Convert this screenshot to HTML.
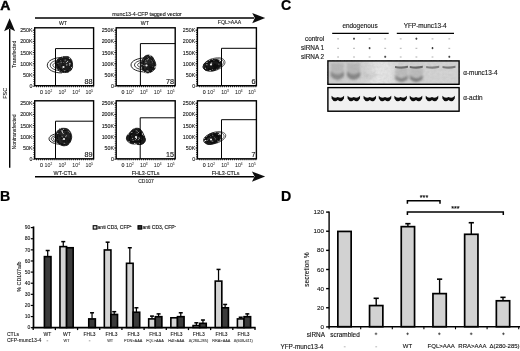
<!DOCTYPE html>
<html><head><meta charset="utf-8"><title>Figure</title>
<style>
html,body{margin:0;padding:0;background:#fff;}
body{width:520px;height:351px;overflow:hidden;}
svg{display:block;}
svg text{font-family:"Liberation Sans",Arial,sans-serif;}
</style></head><body>
<svg width="520" height="351" viewBox="0 0 520 351">
<defs>
<filter id="b03" x="-10%" y="-10%" width="120%" height="120%"><feGaussianBlur stdDeviation="0.3"/></filter>
<filter id="b06" x="-10%" y="-30%" width="120%" height="160%"><feGaussianBlur stdDeviation="0.55"/></filter>
<filter id="mot" x="-5%" y="-5%" width="110%" height="110%"><feTurbulence type="fractalNoise" baseFrequency="0.42" numOctaves="2" seed="7" result="n"/><feColorMatrix in="n" type="matrix" values="0 0 0 0 0.85  0 0 0 0 0.85  0 0 0 0 0.85  4.5 0 0 0 -2.78" result="w"/><feComposite in="w" in2="SourceGraphic" operator="in" result="wc"/><feMerge><feMergeNode in="SourceGraphic"/><feMergeNode in="wc"/></feMerge></filter>
<filter id="b07" x="-10%" y="-50%" width="120%" height="200%"><feGaussianBlur stdDeviation="0.6"/></filter>
<filter id="b12" x="-10%" y="-30%" width="120%" height="160%"><feGaussianBlur stdDeviation="1.1"/></filter>
<filter id="all"><feGaussianBlur stdDeviation="0.35"/></filter>
<filter id="noise" x="0" y="0" width="100%" height="100%"><feTurbulence type="fractalNoise" baseFrequency="0.35" numOctaves="2" seed="4"/><feColorMatrix type="matrix" values="0 0 0 0 0.5  0 0 0 0 0.5  0 0 0 0 0.5  0.9 0.9 0.9 0 -0.9"/></filter>
<linearGradient id="blotbg" x1="0" x2="1" y1="0" y2="0">
<stop offset="0" stop-color="#cdcdcd"/><stop offset="0.25" stop-color="#d2d2d2"/><stop offset="0.36" stop-color="#e8e8e8"/><stop offset="0.47" stop-color="#e4e4e4"/><stop offset="0.55" stop-color="#d2d2d2"/><stop offset="1" stop-color="#d4d4d4"/>
</linearGradient>
</defs>
<rect width="520" height="351" fill="#fff"/>
<g filter="url(#all)">
<text transform="translate(0.3,10.3) scale(1.03,0.98)" font-size="13.6" font-weight="bold" fill="#000" stroke="#000" stroke-width="0.45">A</text>
<line x1="35" y1="17.9" x2="254" y2="17.9" stroke="#000" stroke-width="1.5" />
<polygon points="265.2,18 252.2,13 254.8,18 252.2,23.2" fill="#111"/>
<text x="146.9" y="16.1" font-size="5.3" text-anchor="middle" font-weight="normal" fill="#111" stroke="#111" stroke-width="0.10" >munc13-4-CFP tagged vector</text>
<line x1="9.7" y1="29" x2="9.7" y2="167.8" stroke="#000" stroke-width="1.4" />
<polygon points="9.6,18.2 4.1,31.2 9.6,28.6 15.1,31.2" fill="#111"/>
<line x1="35" y1="176.7" x2="254" y2="176.7" stroke="#000" stroke-width="1.4" />
<polygon points="265.2,176.6 251.9,171.5 254.6,176.6 251.9,181.8" fill="#111"/>
<text x="146" y="183" font-size="5" text-anchor="middle" font-weight="normal" fill="#111" stroke="#111" stroke-width="0.09" >CD107</text>
<text x="6.7" y="93.3" font-size="5.4" text-anchor="middle" font-weight="normal" fill="#111" stroke="#111" stroke-width="0.10" transform="rotate(-90 6.7 93.3)" >FSC</text>
<text x="16.2" y="54.3" font-size="5.2" text-anchor="middle" font-weight="normal" fill="#111" stroke="#111" stroke-width="0.09" transform="rotate(-90 16.2 54.3)" >Transfected</text>
<text x="16.2" y="132" font-size="5.2" text-anchor="middle" font-weight="normal" fill="#111" stroke="#111" stroke-width="0.09" transform="rotate(-90 16.2 132)" >Nontransfected</text>
<text x="32.5" y="32.2" font-size="5.3" text-anchor="end" font-weight="normal" fill="#111" stroke="#111" stroke-width="0.10" >250K</text>
<line x1="32.800000000000004" y1="30.2" x2="34.7" y2="30.2" stroke="#000" stroke-width="0.8" />
<text x="32.5" y="43.4" font-size="5.3" text-anchor="end" font-weight="normal" fill="#111" stroke="#111" stroke-width="0.10" >200K</text>
<line x1="32.800000000000004" y1="41.4" x2="34.7" y2="41.4" stroke="#000" stroke-width="0.8" />
<text x="32.5" y="54.599999999999994" font-size="5.3" text-anchor="end" font-weight="normal" fill="#111" stroke="#111" stroke-width="0.10" >150K</text>
<line x1="32.800000000000004" y1="52.599999999999994" x2="34.7" y2="52.599999999999994" stroke="#000" stroke-width="0.8" />
<text x="32.5" y="65.8" font-size="5.3" text-anchor="end" font-weight="normal" fill="#111" stroke="#111" stroke-width="0.10" >100K</text>
<line x1="32.800000000000004" y1="63.8" x2="34.7" y2="63.8" stroke="#000" stroke-width="0.8" />
<text x="32.5" y="77.0" font-size="5.3" text-anchor="end" font-weight="normal" fill="#111" stroke="#111" stroke-width="0.10" >50K</text>
<line x1="32.800000000000004" y1="75.0" x2="34.7" y2="75.0" stroke="#000" stroke-width="0.8" />
<text x="32.5" y="88.2" font-size="5.3" text-anchor="end" font-weight="normal" fill="#111" stroke="#111" stroke-width="0.10" >0</text>
<line x1="32.800000000000004" y1="86.2" x2="34.7" y2="86.2" stroke="#000" stroke-width="0.8" />
<line x1="36.20" y1="86.60" x2="93.60" y2="86.60" stroke="#000" stroke-width="1.2" stroke-dasharray="0.8 1.15"/>
<line x1="33.80" y1="29.80" x2="33.80" y2="85.70" stroke="#000" stroke-width="1.0" stroke-dasharray="0.7 1.54"/>
<text x="41.5" y="94.0" font-size="5.3" text-anchor="middle" font-weight="normal" fill="#111" stroke="#111" stroke-width="0.10" >0</text>
<text x="48.40" y="94.00" font-size="5.3" text-anchor="middle" fill="#111">10<tspan font-size="3.2" dy="-1.8">2</tspan></text>
<text x="62.30" y="94.00" font-size="5.3" text-anchor="middle" fill="#111">10<tspan font-size="3.2" dy="-1.8">3</tspan></text>
<text x="76.10" y="94.00" font-size="5.3" text-anchor="middle" fill="#111">10<tspan font-size="3.2" dy="-1.8">4</tspan></text>
<text x="89.30" y="94.00" font-size="5.3" text-anchor="middle" fill="#111">10<tspan font-size="3.2" dy="-1.8">5</tspan></text>
<g filter="url(#b03)"><path d="M61.91,57.57 C53.88,57.57 47.30,60.64 47.30,65.25 C47.30,69.86 53.88,72.93 61.91,72.93" fill="none" stroke="#000" stroke-width="0.85"/><path d="M61.91,59.81 C55.50,59.81 50.26,61.99 50.26,65.25 C50.26,68.51 55.50,70.69 61.91,70.69" fill="none" stroke="#000" stroke-width="0.75"/><path d="M61.91,61.80 C56.94,61.80 52.87,63.18 52.87,65.25 C52.87,67.32 56.94,68.70 61.91,68.70" fill="none" stroke="#000" stroke-width="0.7"/><path d="M72.53,64.45 C72.59,65.87 72.69,67.56 72.07,68.80 C71.45,70.04 70.08,71.28 68.81,71.91 C67.54,72.54 65.88,72.59 64.45,72.55 C63.02,72.52 61.44,72.34 60.23,71.68 C59.02,71.02 57.91,69.80 57.18,68.60 C56.45,67.40 55.90,65.86 55.85,64.45 C55.80,63.04 56.11,61.28 56.88,60.13 C57.64,58.98 59.17,58.16 60.43,57.57 C61.69,56.98 63.05,56.68 64.45,56.57 C65.85,56.47 67.64,56.30 68.85,56.93 C70.06,57.55 71.09,59.05 71.71,60.31 C72.32,61.56 72.47,63.03 72.53,64.45 Z" fill="#262626" stroke="#111" stroke-width="0.8" filter="url(#mot)"/><path d="M71.99,64.70 C71.89,65.95 70.64,67.19 69.80,68.24 C68.96,69.28 68.12,70.47 66.94,70.98 C65.75,71.50 63.90,71.76 62.69,71.34 C61.48,70.91 60.56,69.52 59.70,68.41 C58.84,67.31 57.63,66.03 57.51,64.70 C57.39,63.37 58.05,61.42 58.96,60.46 C59.88,59.50 61.68,59.20 62.98,58.94 C64.28,58.69 65.53,58.65 66.76,58.95 C68.00,59.25 69.52,59.78 70.39,60.74 C71.26,61.70 72.09,63.45 71.99,64.70 Z" fill="none" stroke="#0a0a0a" stroke-width="0.9"/><path d="M70.61,66.95 C70.64,67.65 69.56,68.59 68.91,69.10 C68.27,69.61 67.49,69.88 66.73,70.02 C65.96,70.15 64.88,70.25 64.30,69.90 C63.72,69.55 63.46,68.60 63.24,67.93 C63.02,67.26 62.79,66.54 62.96,65.89 C63.14,65.23 63.65,64.39 64.29,63.99 C64.93,63.60 66.06,63.35 66.80,63.51 C67.54,63.67 68.11,64.37 68.74,64.94 C69.38,65.52 70.58,66.26 70.61,66.95 Z" fill="#1a1a1a"/><ellipse cx="64.80" cy="67.29" rx="1.11" ry="0.80" fill="#101010" opacity="0.85"/><ellipse cx="70.68" cy="65.29" rx="1.20" ry="1.05" fill="#101010" opacity="0.85"/><ellipse cx="67.25" cy="70.94" rx="1.47" ry="0.68" fill="#101010" opacity="0.85"/><ellipse cx="61.64" cy="69.30" rx="1.34" ry="1.26" fill="#101010" opacity="0.85"/><ellipse cx="58.93" cy="67.35" rx="1.30" ry="0.81" fill="#101010" opacity="0.85"/><ellipse cx="58.88" cy="61.07" rx="1.46" ry="0.95" fill="#101010" opacity="0.85"/><ellipse cx="62.86" cy="63.46" rx="0.92" ry="1.16" fill="#101010" opacity="0.85"/><ellipse cx="62.18" cy="65.79" rx="1.19" ry="1.09" fill="#101010" opacity="0.85"/><ellipse cx="62.74" cy="61.16" rx="1.10" ry="0.96" fill="#101010" opacity="0.85"/><ellipse cx="65.26" cy="60.04" rx="0.74" ry="0.64" fill="#c8c8c8" opacity="0.6"/><ellipse cx="66.72" cy="64.87" rx="0.92" ry="0.89" fill="#c8c8c8" opacity="0.6"/><ellipse cx="61.16" cy="62.30" rx="0.60" ry="0.65" fill="#c8c8c8" opacity="0.6"/><ellipse cx="70.11" cy="63.82" rx="0.82" ry="0.83" fill="#c8c8c8" opacity="0.6"/><ellipse cx="63.5" cy="67" rx="1.1" ry="0.9" fill="#f2f2f2"/></g>
<path d="M55.5,85.7 V48.6 H93.6" fill="none" stroke="#000" stroke-width="1.0"/>
<rect x="34.70" y="27.80" width="58.90" height="57.90" fill="none" stroke="#000" stroke-width="1.4" />
<text x="92.6" y="83.8" font-size="7.2" text-anchor="end" font-weight="normal" fill="#111" stroke="#111" stroke-width="0.13" >88</text>
<text x="114.0" y="32.2" font-size="5.3" text-anchor="end" font-weight="normal" fill="#111" stroke="#111" stroke-width="0.10" >250K</text>
<line x1="114.3" y1="30.2" x2="116.2" y2="30.2" stroke="#000" stroke-width="0.8" />
<text x="114.0" y="43.4" font-size="5.3" text-anchor="end" font-weight="normal" fill="#111" stroke="#111" stroke-width="0.10" >200K</text>
<line x1="114.3" y1="41.4" x2="116.2" y2="41.4" stroke="#000" stroke-width="0.8" />
<text x="114.0" y="54.599999999999994" font-size="5.3" text-anchor="end" font-weight="normal" fill="#111" stroke="#111" stroke-width="0.10" >150K</text>
<line x1="114.3" y1="52.599999999999994" x2="116.2" y2="52.599999999999994" stroke="#000" stroke-width="0.8" />
<text x="114.0" y="65.8" font-size="5.3" text-anchor="end" font-weight="normal" fill="#111" stroke="#111" stroke-width="0.10" >100K</text>
<line x1="114.3" y1="63.8" x2="116.2" y2="63.8" stroke="#000" stroke-width="0.8" />
<text x="114.0" y="77.0" font-size="5.3" text-anchor="end" font-weight="normal" fill="#111" stroke="#111" stroke-width="0.10" >50K</text>
<line x1="114.3" y1="75.0" x2="116.2" y2="75.0" stroke="#000" stroke-width="0.8" />
<text x="114.0" y="88.2" font-size="5.3" text-anchor="end" font-weight="normal" fill="#111" stroke="#111" stroke-width="0.10" >0</text>
<line x1="114.3" y1="86.2" x2="116.2" y2="86.2" stroke="#000" stroke-width="0.8" />
<line x1="117.70" y1="86.60" x2="175.20" y2="86.60" stroke="#000" stroke-width="1.2" stroke-dasharray="0.8 1.15"/>
<line x1="115.30" y1="29.80" x2="115.30" y2="85.70" stroke="#000" stroke-width="1.0" stroke-dasharray="0.7 1.54"/>
<text x="123.0" y="94.0" font-size="5.3" text-anchor="middle" font-weight="normal" fill="#111" stroke="#111" stroke-width="0.10" >0</text>
<text x="129.90" y="94.00" font-size="5.3" text-anchor="middle" fill="#111">10<tspan font-size="3.2" dy="-1.8">2</tspan></text>
<text x="143.80" y="94.00" font-size="5.3" text-anchor="middle" fill="#111">10<tspan font-size="3.2" dy="-1.8">3</tspan></text>
<text x="157.60" y="94.00" font-size="5.3" text-anchor="middle" fill="#111">10<tspan font-size="3.2" dy="-1.8">4</tspan></text>
<text x="170.80" y="94.00" font-size="5.3" text-anchor="middle" fill="#111">10<tspan font-size="3.2" dy="-1.8">5</tspan></text>
<g filter="url(#b03)"><path d="M146.24,57.89 C137.86,57.89 131.00,60.71 131.00,64.95 C131.00,69.19 137.86,72.01 146.24,72.01" fill="none" stroke="#000" stroke-width="0.85"/><path d="M146.24,59.96 C139.78,59.96 134.50,61.95 134.50,64.95 C134.50,67.95 139.78,69.94 146.24,69.94" fill="none" stroke="#000" stroke-width="0.75"/><path d="M146.24,61.78 C141.48,61.78 137.59,63.05 137.59,64.95 C137.59,66.85 141.48,68.12 146.24,68.12" fill="none" stroke="#000" stroke-width="0.7"/><path d="M155.79,64.25 C155.88,65.77 155.47,67.78 154.78,69.02 C154.10,70.25 152.76,71.03 151.69,71.67 C150.62,72.31 149.52,72.73 148.35,72.85 C147.18,72.97 145.73,73.06 144.68,72.40 C143.64,71.75 142.66,70.26 142.07,68.90 C141.48,67.54 141.10,65.76 141.16,64.25 C141.21,62.74 141.78,61.15 142.39,59.83 C142.99,58.51 143.79,57.10 144.78,56.31 C145.77,55.52 147.16,55.08 148.35,55.08 C149.54,55.09 150.93,55.53 151.91,56.34 C152.89,57.14 153.56,58.59 154.21,59.91 C154.85,61.23 155.69,62.73 155.79,64.25 Z" fill="#262626" stroke="#111" stroke-width="0.8" filter="url(#mot)"/><path d="M154.26,64.52 C154.32,65.86 153.79,67.49 153.17,68.69 C152.54,69.89 151.59,71.15 150.52,71.71 C149.46,72.28 147.92,72.51 146.79,72.09 C145.65,71.66 144.36,70.42 143.73,69.16 C143.10,67.90 142.94,66.00 143.01,64.52 C143.09,63.05 143.52,61.41 144.19,60.31 C144.86,59.22 146.02,58.29 147.04,57.96 C148.06,57.62 149.32,57.82 150.28,58.27 C151.25,58.73 152.17,59.63 152.83,60.67 C153.50,61.71 154.21,63.19 154.26,64.52 Z" fill="none" stroke="#0a0a0a" stroke-width="0.9"/><path d="M152.89,66.97 C152.89,67.72 152.45,68.64 152.01,69.23 C151.58,69.82 150.97,70.27 150.28,70.53 C149.60,70.79 148.51,71.15 147.93,70.77 C147.34,70.40 146.95,69.13 146.75,68.28 C146.55,67.42 146.44,66.34 146.71,65.63 C146.97,64.92 147.76,64.30 148.34,64.02 C148.92,63.74 149.59,63.82 150.21,63.93 C150.82,64.05 151.57,64.19 152.02,64.69 C152.47,65.20 152.89,66.21 152.89,66.97 Z" fill="#1a1a1a"/><ellipse cx="150.80" cy="67.89" rx="1.60" ry="1.07" fill="#101010" opacity="0.85"/><ellipse cx="150.64" cy="70.68" rx="1.42" ry="1.11" fill="#101010" opacity="0.85"/><ellipse cx="152.43" cy="60.76" rx="1.41" ry="0.85" fill="#101010" opacity="0.85"/><ellipse cx="154.13" cy="63.36" rx="0.85" ry="1.13" fill="#101010" opacity="0.85"/><ellipse cx="147.58" cy="59.83" rx="1.18" ry="0.94" fill="#101010" opacity="0.85"/><ellipse cx="151.65" cy="62.09" rx="1.45" ry="0.85" fill="#101010" opacity="0.85"/><ellipse cx="152.45" cy="59.48" rx="1.11" ry="1.00" fill="#101010" opacity="0.85"/><ellipse cx="152.50" cy="61.34" rx="1.14" ry="0.76" fill="#101010" opacity="0.85"/><ellipse cx="146.26" cy="69.54" rx="0.85" ry="1.24" fill="#101010" opacity="0.85"/><ellipse cx="147.75" cy="71.00" rx="0.69" ry="0.88" fill="#c8c8c8" opacity="0.6"/><ellipse cx="147.34" cy="59.66" rx="0.81" ry="0.73" fill="#c8c8c8" opacity="0.6"/><ellipse cx="145.82" cy="62.25" rx="0.62" ry="0.66" fill="#c8c8c8" opacity="0.6"/><ellipse cx="152.18" cy="62.09" rx="0.55" ry="0.81" fill="#c8c8c8" opacity="0.6"/><ellipse cx="146.5" cy="65.5" rx="1.1" ry="0.9" fill="#f2f2f2"/></g>
<path d="M140.4,85.7 V43.6 H175.2" fill="none" stroke="#000" stroke-width="1.0"/>
<rect x="116.20" y="27.80" width="59.00" height="57.90" fill="none" stroke="#000" stroke-width="1.4" />
<text x="174" y="83.8" font-size="7.2" text-anchor="end" font-weight="normal" fill="#111" stroke="#111" stroke-width="0.13" >78</text>
<text x="195.20000000000002" y="32.2" font-size="5.3" text-anchor="end" font-weight="normal" fill="#111" stroke="#111" stroke-width="0.10" >250K</text>
<line x1="195.5" y1="30.2" x2="197.4" y2="30.2" stroke="#000" stroke-width="0.8" />
<text x="195.20000000000002" y="43.4" font-size="5.3" text-anchor="end" font-weight="normal" fill="#111" stroke="#111" stroke-width="0.10" >200K</text>
<line x1="195.5" y1="41.4" x2="197.4" y2="41.4" stroke="#000" stroke-width="0.8" />
<text x="195.20000000000002" y="54.599999999999994" font-size="5.3" text-anchor="end" font-weight="normal" fill="#111" stroke="#111" stroke-width="0.10" >150K</text>
<line x1="195.5" y1="52.599999999999994" x2="197.4" y2="52.599999999999994" stroke="#000" stroke-width="0.8" />
<text x="195.20000000000002" y="65.8" font-size="5.3" text-anchor="end" font-weight="normal" fill="#111" stroke="#111" stroke-width="0.10" >100K</text>
<line x1="195.5" y1="63.8" x2="197.4" y2="63.8" stroke="#000" stroke-width="0.8" />
<text x="195.20000000000002" y="77.0" font-size="5.3" text-anchor="end" font-weight="normal" fill="#111" stroke="#111" stroke-width="0.10" >50K</text>
<line x1="195.5" y1="75.0" x2="197.4" y2="75.0" stroke="#000" stroke-width="0.8" />
<text x="195.20000000000002" y="88.2" font-size="5.3" text-anchor="end" font-weight="normal" fill="#111" stroke="#111" stroke-width="0.10" >0</text>
<line x1="195.5" y1="86.2" x2="197.4" y2="86.2" stroke="#000" stroke-width="0.8" />
<line x1="198.90" y1="86.60" x2="256.40" y2="86.60" stroke="#000" stroke-width="1.2" stroke-dasharray="0.8 1.15"/>
<line x1="196.50" y1="29.80" x2="196.50" y2="85.70" stroke="#000" stroke-width="1.0" stroke-dasharray="0.7 1.54"/>
<text x="204.20000000000002" y="94.0" font-size="5.3" text-anchor="middle" font-weight="normal" fill="#111" stroke="#111" stroke-width="0.10" >0</text>
<text x="211.10" y="94.00" font-size="5.3" text-anchor="middle" fill="#111">10<tspan font-size="3.2" dy="-1.8">2</tspan></text>
<text x="225.00" y="94.00" font-size="5.3" text-anchor="middle" fill="#111">10<tspan font-size="3.2" dy="-1.8">3</tspan></text>
<text x="238.80" y="94.00" font-size="5.3" text-anchor="middle" fill="#111">10<tspan font-size="3.2" dy="-1.8">4</tspan></text>
<text x="252.00" y="94.00" font-size="5.3" text-anchor="middle" fill="#111">10<tspan font-size="3.2" dy="-1.8">5</tspan></text>
<g filter="url(#b03)"><path d="M224.76,61.24 C225.02,62.07 225.08,63.06 224.64,64.01 C224.21,64.95 223.23,66.01 222.16,66.90 C221.09,67.80 219.71,68.73 218.25,69.39 C216.78,70.05 214.96,70.63 213.40,70.88 C211.83,71.13 210.20,71.06 208.86,70.88 C207.52,70.70 206.34,70.31 205.37,69.81 C204.40,69.31 203.33,68.68 203.05,67.88 C202.78,67.07 203.23,65.95 203.74,64.99 C204.24,64.03 205.09,63.03 206.11,62.12 C207.13,61.20 208.41,60.15 209.86,59.50 C211.31,58.84 213.18,58.46 214.80,58.18 C216.42,57.90 218.21,57.68 219.59,57.82 C220.97,57.96 222.22,58.47 223.08,59.04 C223.94,59.61 224.50,60.41 224.76,61.24 Z" fill="none" stroke="#111" stroke-width="0.7"/><path d="M223.49,61.63 C223.68,62.34 223.35,63.26 222.95,64.09 C222.56,64.91 222.01,65.82 221.14,66.60 C220.27,67.38 218.99,68.21 217.72,68.77 C216.45,69.33 214.88,69.71 213.50,69.95 C212.11,70.19 210.61,70.33 209.41,70.21 C208.20,70.10 207.01,69.74 206.29,69.25 C205.56,68.76 205.26,67.99 205.03,67.27 C204.80,66.55 204.58,65.74 204.92,64.93 C205.26,64.12 206.13,63.17 207.08,62.41 C208.02,61.65 209.33,60.91 210.60,60.37 C211.87,59.84 213.31,59.48 214.68,59.21 C216.06,58.94 217.64,58.64 218.83,58.74 C220.02,58.84 221.05,59.32 221.82,59.80 C222.60,60.28 223.30,60.92 223.49,61.63 Z" fill="none" stroke="#111" stroke-width="0.6"/><path d="M221.29,62.35 C221.65,63.22 221.56,64.44 221.05,65.45 C220.55,66.47 219.41,67.58 218.24,68.45 C217.06,69.31 215.48,70.23 214.00,70.66 C212.52,71.09 210.80,71.07 209.35,71.00 C207.89,70.93 206.26,70.79 205.29,70.25 C204.33,69.71 203.85,68.69 203.55,67.77 C203.25,66.86 203.04,65.76 203.50,64.75 C203.95,63.73 205.06,62.49 206.27,61.70 C207.47,60.90 209.25,60.37 210.73,59.98 C212.22,59.59 213.81,59.31 215.18,59.35 C216.54,59.40 217.89,59.74 218.91,60.24 C219.93,60.74 220.93,61.48 221.29,62.35 Z" fill="#1c1c1c" stroke="#111" stroke-width="0.8" filter="url(#mot)"/><path d="M219.22,62.98 C219.37,63.76 218.65,64.86 218.02,65.71 C217.38,66.57 216.51,67.55 215.42,68.11 C214.32,68.67 212.72,68.95 211.46,69.07 C210.20,69.19 208.73,69.20 207.84,68.86 C206.95,68.51 206.30,67.72 206.11,66.99 C205.92,66.27 206.16,65.31 206.68,64.50 C207.20,63.69 208.12,62.71 209.21,62.11 C210.29,61.51 211.87,61.07 213.19,60.90 C214.51,60.72 216.11,60.70 217.12,61.04 C218.12,61.39 219.07,62.21 219.22,62.98 Z" fill="none" stroke="#0a0a0a" stroke-width="1.1"/><path d="M216.95,64.90 C217.12,65.45 217.08,66.22 216.45,66.87 C215.82,67.52 214.39,68.30 213.16,68.79 C211.93,69.28 210.17,69.77 209.05,69.81 C207.93,69.84 206.81,69.44 206.42,69.02 C206.03,68.60 206.48,67.88 206.71,67.26 C206.93,66.64 206.96,65.88 207.78,65.29 C208.60,64.70 210.37,63.99 211.64,63.71 C212.91,63.42 214.52,63.36 215.41,63.56 C216.29,63.76 216.77,64.35 216.95,64.90 Z" fill="#151515"/><ellipse cx="207.06" cy="63.67" rx="0.89" ry="1.18" fill="#101010" opacity="0.85"/><ellipse cx="209.24" cy="64.21" rx="0.76" ry="1.20" fill="#101010" opacity="0.85"/><ellipse cx="214.62" cy="65.01" rx="1.42" ry="0.89" fill="#101010" opacity="0.85"/><ellipse cx="214.32" cy="66.75" rx="1.39" ry="1.21" fill="#101010" opacity="0.85"/><ellipse cx="217.33" cy="65.94" rx="0.74" ry="1.10" fill="#101010" opacity="0.85"/><ellipse cx="209.04" cy="68.54" rx="1.58" ry="0.95" fill="#101010" opacity="0.85"/><ellipse cx="215.85" cy="65.08" rx="0.77" ry="1.02" fill="#101010" opacity="0.85"/><ellipse cx="215.17" cy="65.44" rx="1.07" ry="1.03" fill="#101010" opacity="0.85"/><ellipse cx="213.45" cy="66.11" rx="1.48" ry="0.82" fill="#101010" opacity="0.85"/><ellipse cx="218.91" cy="64.07" rx="0.73" ry="0.63" fill="#c8c8c8" opacity="0.6"/><ellipse cx="206.79" cy="64.69" rx="0.86" ry="0.68" fill="#c8c8c8" opacity="0.6"/><ellipse cx="207.16" cy="62.26" rx="0.80" ry="0.62" fill="#c8c8c8" opacity="0.6"/><ellipse cx="211.65" cy="63.08" rx="0.68" ry="0.89" fill="#c8c8c8" opacity="0.6"/><ellipse cx="211" cy="64.5" rx="1.1" ry="0.9" fill="#f2f2f2"/></g>
<path d="M221.5,85.7 V48.3 H256.4" fill="none" stroke="#000" stroke-width="1.0"/>
<rect x="197.40" y="27.80" width="59.00" height="57.90" fill="none" stroke="#000" stroke-width="1.4" />
<text x="255.4" y="83.8" font-size="7.2" text-anchor="end" font-weight="normal" fill="#111" stroke="#111" stroke-width="0.13" >6</text>
<text x="32.5" y="105.2" font-size="5.3" text-anchor="end" font-weight="normal" fill="#111" stroke="#111" stroke-width="0.10" >250K</text>
<line x1="32.800000000000004" y1="103.2" x2="34.7" y2="103.2" stroke="#000" stroke-width="0.8" />
<text x="32.5" y="116.4" font-size="5.3" text-anchor="end" font-weight="normal" fill="#111" stroke="#111" stroke-width="0.10" >200K</text>
<line x1="32.800000000000004" y1="114.4" x2="34.7" y2="114.4" stroke="#000" stroke-width="0.8" />
<text x="32.5" y="127.6" font-size="5.3" text-anchor="end" font-weight="normal" fill="#111" stroke="#111" stroke-width="0.10" >150K</text>
<line x1="32.800000000000004" y1="125.6" x2="34.7" y2="125.6" stroke="#000" stroke-width="0.8" />
<text x="32.5" y="138.8" font-size="5.3" text-anchor="end" font-weight="normal" fill="#111" stroke="#111" stroke-width="0.10" >100K</text>
<line x1="32.800000000000004" y1="136.8" x2="34.7" y2="136.8" stroke="#000" stroke-width="0.8" />
<text x="32.5" y="150.0" font-size="5.3" text-anchor="end" font-weight="normal" fill="#111" stroke="#111" stroke-width="0.10" >50K</text>
<line x1="32.800000000000004" y1="148.0" x2="34.7" y2="148.0" stroke="#000" stroke-width="0.8" />
<text x="32.5" y="161.2" font-size="5.3" text-anchor="end" font-weight="normal" fill="#111" stroke="#111" stroke-width="0.10" >0</text>
<line x1="32.800000000000004" y1="159.2" x2="34.7" y2="159.2" stroke="#000" stroke-width="0.8" />
<line x1="36.20" y1="159.70" x2="93.60" y2="159.70" stroke="#000" stroke-width="1.2" stroke-dasharray="0.8 1.15"/>
<line x1="33.80" y1="102.80" x2="33.80" y2="158.80" stroke="#000" stroke-width="1.0" stroke-dasharray="0.7 1.54"/>
<text x="41.5" y="167.10000000000002" font-size="5.3" text-anchor="middle" font-weight="normal" fill="#111" stroke="#111" stroke-width="0.10" >0</text>
<text x="48.40" y="167.10" font-size="5.3" text-anchor="middle" fill="#111">10<tspan font-size="3.2" dy="-1.8">2</tspan></text>
<text x="62.30" y="167.10" font-size="5.3" text-anchor="middle" fill="#111">10<tspan font-size="3.2" dy="-1.8">3</tspan></text>
<text x="76.10" y="167.10" font-size="5.3" text-anchor="middle" fill="#111">10<tspan font-size="3.2" dy="-1.8">4</tspan></text>
<text x="89.30" y="167.10" font-size="5.3" text-anchor="middle" fill="#111">10<tspan font-size="3.2" dy="-1.8">5</tspan></text>
<g filter="url(#b03)"><path d="M61.34,133.34 C54.55,133.34 49.00,135.52 49.00,138.80 C49.00,142.08 54.55,144.26 61.34,144.26" fill="none" stroke="#000" stroke-width="0.85"/><path d="M61.34,134.94 C55.79,134.94 51.24,136.48 51.24,138.80 C51.24,141.12 55.79,142.66 61.34,142.66" fill="none" stroke="#000" stroke-width="0.75"/><path d="M61.34,136.35 C56.88,136.35 53.22,137.33 53.22,138.80 C53.22,140.27 56.88,141.25 61.34,141.25" fill="none" stroke="#000" stroke-width="0.7"/><path d="M71.74,137.10 C71.72,138.56 71.21,140.14 70.56,141.43 C69.91,142.73 68.98,144.15 67.85,144.88 C66.72,145.61 65.12,145.88 63.80,145.82 C62.48,145.77 61.08,145.28 59.91,144.57 C58.74,143.87 57.57,142.84 56.78,141.60 C56.00,140.35 55.25,138.64 55.19,137.10 C55.13,135.56 55.71,133.74 56.44,132.39 C57.17,131.03 58.34,129.65 59.57,128.97 C60.80,128.29 62.41,128.27 63.80,128.30 C65.19,128.34 66.77,128.46 67.92,129.18 C69.07,129.91 70.07,131.35 70.71,132.67 C71.35,133.99 71.76,135.64 71.74,137.10 Z" fill="#262626" stroke="#111" stroke-width="0.8" filter="url(#mot)"/><path d="M70.34,137.37 C70.25,138.76 69.80,140.23 69.10,141.32 C68.40,142.40 67.30,143.31 66.12,143.90 C64.94,144.50 63.27,145.22 62.01,144.89 C60.75,144.56 59.35,143.19 58.55,141.93 C57.76,140.68 57.24,138.89 57.25,137.37 C57.25,135.86 57.74,133.92 58.58,132.84 C59.43,131.75 61.04,131.23 62.31,130.87 C63.57,130.52 64.94,130.36 66.16,130.71 C67.38,131.06 68.96,131.88 69.65,132.99 C70.35,134.10 70.43,135.98 70.34,137.37 Z" fill="none" stroke="#0a0a0a" stroke-width="0.9"/><path d="M69.47,139.83 C69.54,140.70 69.22,141.91 68.67,142.64 C68.12,143.36 66.97,144.17 66.18,144.17 C65.38,144.16 64.63,143.09 63.90,142.59 C63.17,142.10 62.19,141.89 61.83,141.19 C61.46,140.50 61.44,139.21 61.73,138.43 C62.03,137.65 62.88,136.83 63.59,136.51 C64.30,136.20 65.22,136.40 66.00,136.55 C66.77,136.70 67.66,136.85 68.24,137.40 C68.82,137.95 69.40,138.96 69.47,139.83 Z" fill="#1a1a1a"/><ellipse cx="69.41" cy="141.01" rx="1.48" ry="0.98" fill="#101010" opacity="0.85"/><ellipse cx="61.79" cy="143.94" rx="1.22" ry="1.22" fill="#101010" opacity="0.85"/><ellipse cx="66.31" cy="133.16" rx="1.07" ry="1.02" fill="#101010" opacity="0.85"/><ellipse cx="61.53" cy="138.26" rx="0.97" ry="1.17" fill="#101010" opacity="0.85"/><ellipse cx="65.62" cy="137.66" rx="1.26" ry="0.80" fill="#101010" opacity="0.85"/><ellipse cx="59.75" cy="136.11" rx="1.01" ry="1.30" fill="#101010" opacity="0.85"/><ellipse cx="65.09" cy="141.11" rx="0.88" ry="1.04" fill="#101010" opacity="0.85"/><ellipse cx="63.22" cy="140.97" rx="1.37" ry="0.82" fill="#101010" opacity="0.85"/><ellipse cx="57.77" cy="134.52" rx="0.79" ry="0.64" fill="#101010" opacity="0.85"/><ellipse cx="64.53" cy="143.15" rx="0.87" ry="0.52" fill="#c8c8c8" opacity="0.6"/><ellipse cx="62.41" cy="139.86" rx="0.78" ry="0.42" fill="#c8c8c8" opacity="0.6"/><ellipse cx="61.82" cy="130.71" rx="1.07" ry="0.77" fill="#c8c8c8" opacity="0.6"/><ellipse cx="65.86" cy="136.51" rx="0.67" ry="0.88" fill="#c8c8c8" opacity="0.6"/><ellipse cx="64" cy="139" rx="1.1" ry="0.9" fill="#f2f2f2"/></g>
<path d="M55.5,158.8 V121.2 H93.6" fill="none" stroke="#000" stroke-width="1.0"/>
<rect x="34.70" y="100.80" width="58.90" height="58.00" fill="none" stroke="#000" stroke-width="1.4" />
<text x="92.6" y="156.9" font-size="7.2" text-anchor="end" font-weight="normal" fill="#111" stroke="#111" stroke-width="0.13" >89</text>
<text x="114.0" y="105.2" font-size="5.3" text-anchor="end" font-weight="normal" fill="#111" stroke="#111" stroke-width="0.10" >250K</text>
<line x1="114.3" y1="103.2" x2="116.2" y2="103.2" stroke="#000" stroke-width="0.8" />
<text x="114.0" y="116.4" font-size="5.3" text-anchor="end" font-weight="normal" fill="#111" stroke="#111" stroke-width="0.10" >200K</text>
<line x1="114.3" y1="114.4" x2="116.2" y2="114.4" stroke="#000" stroke-width="0.8" />
<text x="114.0" y="127.6" font-size="5.3" text-anchor="end" font-weight="normal" fill="#111" stroke="#111" stroke-width="0.10" >150K</text>
<line x1="114.3" y1="125.6" x2="116.2" y2="125.6" stroke="#000" stroke-width="0.8" />
<text x="114.0" y="138.8" font-size="5.3" text-anchor="end" font-weight="normal" fill="#111" stroke="#111" stroke-width="0.10" >100K</text>
<line x1="114.3" y1="136.8" x2="116.2" y2="136.8" stroke="#000" stroke-width="0.8" />
<text x="114.0" y="150.0" font-size="5.3" text-anchor="end" font-weight="normal" fill="#111" stroke="#111" stroke-width="0.10" >50K</text>
<line x1="114.3" y1="148.0" x2="116.2" y2="148.0" stroke="#000" stroke-width="0.8" />
<text x="114.0" y="161.2" font-size="5.3" text-anchor="end" font-weight="normal" fill="#111" stroke="#111" stroke-width="0.10" >0</text>
<line x1="114.3" y1="159.2" x2="116.2" y2="159.2" stroke="#000" stroke-width="0.8" />
<line x1="117.70" y1="159.70" x2="175.20" y2="159.70" stroke="#000" stroke-width="1.2" stroke-dasharray="0.8 1.15"/>
<line x1="115.30" y1="102.80" x2="115.30" y2="158.80" stroke="#000" stroke-width="1.0" stroke-dasharray="0.7 1.54"/>
<text x="123.0" y="167.10000000000002" font-size="5.3" text-anchor="middle" font-weight="normal" fill="#111" stroke="#111" stroke-width="0.10" >0</text>
<text x="129.90" y="167.10" font-size="5.3" text-anchor="middle" fill="#111">10<tspan font-size="3.2" dy="-1.8">2</tspan></text>
<text x="143.80" y="167.10" font-size="5.3" text-anchor="middle" fill="#111">10<tspan font-size="3.2" dy="-1.8">3</tspan></text>
<text x="157.60" y="167.10" font-size="5.3" text-anchor="middle" fill="#111">10<tspan font-size="3.2" dy="-1.8">4</tspan></text>
<text x="170.80" y="167.10" font-size="5.3" text-anchor="middle" fill="#111">10<tspan font-size="3.2" dy="-1.8">5</tspan></text>
<g filter="url(#b03)"><path d="M144.80,137.00 C145.13,138.08 145.66,139.51 145.36,140.64 C145.07,141.76 144.09,143.10 143.03,143.76 C141.97,144.43 140.26,144.58 138.98,144.63 C137.71,144.68 136.56,144.20 135.37,144.06 C134.17,143.91 132.98,144.10 131.82,143.76 C130.67,143.42 129.33,142.85 128.43,142.03 C127.52,141.22 126.58,139.97 126.41,138.86 C126.24,137.74 126.83,136.33 127.39,135.33 C127.96,134.33 129.05,133.70 129.79,132.85 C130.53,132.00 130.93,130.99 131.83,130.25 C132.73,129.51 133.95,128.73 135.19,128.44 C136.43,128.15 138.16,128.04 139.29,128.51 C140.43,128.99 141.30,130.34 141.98,131.28 C142.66,132.22 142.92,133.19 143.39,134.15 C143.86,135.10 144.47,135.92 144.80,137.00 Z" fill="#1c1c1c" stroke="#111" stroke-width="0.9" filter="url(#mot)"/><path d="M142.32,137.00 C142.55,137.88 142.52,139.17 142.05,140.01 C141.57,140.85 140.44,141.74 139.46,142.04 C138.49,142.33 137.28,141.79 136.20,141.78 C135.12,141.77 134.08,142.21 132.98,141.98 C131.87,141.75 130.13,141.23 129.59,140.40 C129.05,139.57 129.48,138.00 129.74,137.00 C130.00,136.00 130.56,135.14 131.16,134.41 C131.76,133.67 132.51,133.28 133.35,132.60 C134.19,131.93 135.19,130.44 136.20,130.35 C137.21,130.26 138.67,131.31 139.41,132.04 C140.15,132.77 140.14,133.89 140.63,134.72 C141.11,135.55 142.08,136.12 142.32,137.00 Z" fill="none" stroke="#0a0a0a" stroke-width="1.2"/><ellipse cx="138.27" cy="135.07" rx="0.89" ry="1.29" fill="#101010" opacity="0.85"/><ellipse cx="138.59" cy="134.80" rx="1.57" ry="0.98" fill="#101010" opacity="0.85"/><ellipse cx="134.90" cy="134.62" rx="1.55" ry="1.08" fill="#101010" opacity="0.85"/><ellipse cx="142.82" cy="135.74" rx="0.97" ry="0.85" fill="#101010" opacity="0.85"/><ellipse cx="137.53" cy="139.04" rx="0.76" ry="0.81" fill="#101010" opacity="0.85"/><ellipse cx="134.72" cy="136.00" rx="1.31" ry="0.84" fill="#101010" opacity="0.85"/><ellipse cx="133.86" cy="142.27" rx="1.13" ry="0.82" fill="#101010" opacity="0.85"/><ellipse cx="130.51" cy="137.60" rx="0.75" ry="1.28" fill="#101010" opacity="0.85"/><ellipse cx="142.12" cy="137.76" rx="1.46" ry="0.61" fill="#101010" opacity="0.85"/><ellipse cx="137.17" cy="133.40" rx="0.85" ry="0.40" fill="#c8c8c8" opacity="0.6"/><ellipse cx="139.28" cy="137.83" rx="1.07" ry="0.50" fill="#c8c8c8" opacity="0.6"/><ellipse cx="136.45" cy="130.76" rx="1.07" ry="0.57" fill="#c8c8c8" opacity="0.6"/><ellipse cx="133.17" cy="140.49" rx="0.97" ry="0.45" fill="#c8c8c8" opacity="0.6"/><ellipse cx="136" cy="137" rx="1.1" ry="0.9" fill="#f2f2f2"/></g>
<path d="M140.2,158.8 V117.8 H175.2" fill="none" stroke="#000" stroke-width="1.0"/>
<rect x="116.20" y="100.80" width="59.00" height="58.00" fill="none" stroke="#000" stroke-width="1.4" />
<text x="174" y="156.9" font-size="7.2" text-anchor="end" font-weight="normal" fill="#111" stroke="#111" stroke-width="0.13" >15</text>
<text x="195.20000000000002" y="105.2" font-size="5.3" text-anchor="end" font-weight="normal" fill="#111" stroke="#111" stroke-width="0.10" >250K</text>
<line x1="195.5" y1="103.2" x2="197.4" y2="103.2" stroke="#000" stroke-width="0.8" />
<text x="195.20000000000002" y="116.4" font-size="5.3" text-anchor="end" font-weight="normal" fill="#111" stroke="#111" stroke-width="0.10" >200K</text>
<line x1="195.5" y1="114.4" x2="197.4" y2="114.4" stroke="#000" stroke-width="0.8" />
<text x="195.20000000000002" y="127.6" font-size="5.3" text-anchor="end" font-weight="normal" fill="#111" stroke="#111" stroke-width="0.10" >150K</text>
<line x1="195.5" y1="125.6" x2="197.4" y2="125.6" stroke="#000" stroke-width="0.8" />
<text x="195.20000000000002" y="138.8" font-size="5.3" text-anchor="end" font-weight="normal" fill="#111" stroke="#111" stroke-width="0.10" >100K</text>
<line x1="195.5" y1="136.8" x2="197.4" y2="136.8" stroke="#000" stroke-width="0.8" />
<text x="195.20000000000002" y="150.0" font-size="5.3" text-anchor="end" font-weight="normal" fill="#111" stroke="#111" stroke-width="0.10" >50K</text>
<line x1="195.5" y1="148.0" x2="197.4" y2="148.0" stroke="#000" stroke-width="0.8" />
<text x="195.20000000000002" y="161.2" font-size="5.3" text-anchor="end" font-weight="normal" fill="#111" stroke="#111" stroke-width="0.10" >0</text>
<line x1="195.5" y1="159.2" x2="197.4" y2="159.2" stroke="#000" stroke-width="0.8" />
<line x1="198.90" y1="159.70" x2="256.40" y2="159.70" stroke="#000" stroke-width="1.2" stroke-dasharray="0.8 1.15"/>
<line x1="196.50" y1="102.80" x2="196.50" y2="158.80" stroke="#000" stroke-width="1.0" stroke-dasharray="0.7 1.54"/>
<text x="204.20000000000002" y="167.10000000000002" font-size="5.3" text-anchor="middle" font-weight="normal" fill="#111" stroke="#111" stroke-width="0.10" >0</text>
<text x="211.10" y="167.10" font-size="5.3" text-anchor="middle" fill="#111">10<tspan font-size="3.2" dy="-1.8">2</tspan></text>
<text x="225.00" y="167.10" font-size="5.3" text-anchor="middle" fill="#111">10<tspan font-size="3.2" dy="-1.8">3</tspan></text>
<text x="238.80" y="167.10" font-size="5.3" text-anchor="middle" fill="#111">10<tspan font-size="3.2" dy="-1.8">4</tspan></text>
<text x="252.00" y="167.10" font-size="5.3" text-anchor="middle" fill="#111">10<tspan font-size="3.2" dy="-1.8">5</tspan></text>
<g filter="url(#b03)"><path d="M225.62,134.63 C225.90,135.40 225.77,136.41 225.27,137.33 C224.77,138.24 223.74,139.27 222.62,140.12 C221.50,140.97 220.02,141.81 218.55,142.42 C217.08,143.03 215.39,143.46 213.81,143.78 C212.23,144.09 210.45,144.39 209.08,144.31 C207.70,144.23 206.48,143.79 205.57,143.30 C204.66,142.80 203.83,142.14 203.60,141.36 C203.38,140.59 203.74,139.57 204.21,138.65 C204.69,137.73 205.37,136.69 206.44,135.84 C207.51,135.00 209.15,134.23 210.65,133.58 C212.15,132.93 213.84,132.25 215.43,131.93 C217.01,131.62 218.78,131.53 220.15,131.66 C221.51,131.79 222.69,132.23 223.60,132.72 C224.51,133.22 225.34,133.86 225.62,134.63 Z" fill="none" stroke="#111" stroke-width="0.7"/><path d="M223.93,135.15 C224.16,135.81 224.12,136.65 223.70,137.43 C223.27,138.20 222.32,139.05 221.38,139.79 C220.44,140.53 219.30,141.30 218.06,141.87 C216.81,142.44 215.24,142.98 213.89,143.22 C212.54,143.46 211.16,143.40 209.96,143.30 C208.76,143.20 207.48,143.05 206.68,142.65 C205.88,142.24 205.40,141.56 205.18,140.88 C204.97,140.20 204.98,139.36 205.41,138.58 C205.84,137.80 206.79,136.92 207.76,136.19 C208.73,135.47 209.98,134.81 211.24,134.24 C212.50,133.67 213.95,133.07 215.31,132.78 C216.67,132.50 218.22,132.41 219.39,132.53 C220.56,132.64 221.60,133.02 222.35,133.45 C223.11,133.89 223.71,134.48 223.93,135.15 Z" fill="none" stroke="#111" stroke-width="0.6"/><path d="M220.76,136.09 C220.97,136.92 220.90,137.89 220.48,138.82 C220.05,139.74 219.30,140.87 218.22,141.65 C217.15,142.42 215.50,143.00 214.04,143.48 C212.58,143.95 210.82,144.49 209.46,144.48 C208.09,144.46 206.71,143.95 205.84,143.40 C204.97,142.84 204.51,141.98 204.25,141.14 C203.98,140.30 203.79,139.29 204.25,138.37 C204.71,137.46 205.91,136.47 207.03,135.64 C208.15,134.81 209.53,133.89 210.96,133.40 C212.40,132.92 214.26,132.68 215.63,132.75 C217.01,132.82 218.36,133.28 219.21,133.84 C220.07,134.39 220.55,135.26 220.76,136.09 Z" fill="#1c1c1c" stroke="#111" stroke-width="0.8" filter="url(#mot)"/><path d="M218.89,136.66 C219.20,137.30 218.92,138.33 218.38,139.14 C217.84,139.94 216.78,140.86 215.64,141.48 C214.51,142.10 212.74,142.80 211.57,142.85 C210.40,142.91 209.43,142.23 208.60,141.83 C207.76,141.42 206.85,141.06 206.56,140.43 C206.26,139.81 206.29,138.81 206.83,138.07 C207.36,137.33 208.64,136.56 209.75,135.99 C210.86,135.42 212.33,134.76 213.46,134.65 C214.60,134.54 215.65,134.99 216.55,135.33 C217.46,135.66 218.59,136.03 218.89,136.66 Z" fill="none" stroke="#0a0a0a" stroke-width="1.1"/><path d="M217.38,138.21 C217.57,138.63 216.77,139.57 216.04,140.14 C215.32,140.70 214.10,141.15 213.02,141.59 C211.93,142.02 210.51,142.65 209.56,142.73 C208.61,142.81 207.73,142.39 207.31,142.04 C206.90,141.69 206.86,141.16 207.07,140.64 C207.27,140.11 207.73,139.36 208.54,138.90 C209.34,138.43 210.82,138.05 211.87,137.84 C212.93,137.62 213.95,137.54 214.86,137.60 C215.78,137.67 217.18,137.79 217.38,138.21 Z" fill="#151515"/><ellipse cx="216.23" cy="136.27" rx="0.71" ry="1.14" fill="#101010" opacity="0.85"/><ellipse cx="216.11" cy="138.82" rx="1.51" ry="1.03" fill="#101010" opacity="0.85"/><ellipse cx="211.23" cy="140.62" rx="1.05" ry="0.69" fill="#101010" opacity="0.85"/><ellipse cx="214.63" cy="138.60" rx="1.08" ry="1.12" fill="#101010" opacity="0.85"/><ellipse cx="206.90" cy="140.98" rx="0.92" ry="1.29" fill="#101010" opacity="0.85"/><ellipse cx="216.75" cy="136.70" rx="1.50" ry="0.91" fill="#101010" opacity="0.85"/><ellipse cx="215.51" cy="135.62" rx="1.17" ry="0.93" fill="#101010" opacity="0.85"/><ellipse cx="211.45" cy="136.44" rx="0.78" ry="1.12" fill="#101010" opacity="0.85"/><ellipse cx="212.11" cy="141.07" rx="1.41" ry="0.72" fill="#101010" opacity="0.85"/><ellipse cx="215.37" cy="138.82" rx="0.85" ry="0.58" fill="#c8c8c8" opacity="0.6"/><ellipse cx="212.37" cy="141.11" rx="1.06" ry="0.53" fill="#c8c8c8" opacity="0.6"/><ellipse cx="206.99" cy="140.57" rx="0.87" ry="0.53" fill="#c8c8c8" opacity="0.6"/><ellipse cx="208.01" cy="139.01" rx="0.59" ry="0.59" fill="#c8c8c8" opacity="0.6"/><ellipse cx="211" cy="139.5" rx="1.1" ry="0.9" fill="#f2f2f2"/></g>
<path d="M221.5,158.8 V119.7 H256.4" fill="none" stroke="#000" stroke-width="1.0"/>
<rect x="197.40" y="100.80" width="59.00" height="58.00" fill="none" stroke="#000" stroke-width="1.4" />
<text x="255.4" y="156.9" font-size="7.2" text-anchor="end" font-weight="normal" fill="#111" stroke="#111" stroke-width="0.13" >7</text>
<text x="63.0" y="24.5" font-size="5.2" text-anchor="middle" font-weight="normal" fill="#111" stroke="#111" stroke-width="0.09" >WT</text>
<text x="144.8" y="24.5" font-size="5.2" text-anchor="middle" font-weight="normal" fill="#111" stroke="#111" stroke-width="0.09" >WT</text>
<text x="229.5" y="24.2" font-size="5.2" text-anchor="middle" font-weight="normal" fill="#111" stroke="#111" stroke-width="0.09" >FQL&gt;AAA</text>
<text x="65.0" y="174.6" font-size="5.4" text-anchor="middle" font-weight="normal" fill="#111" stroke="#111" stroke-width="0.10" >WT-CTLs</text>
<text x="145.6" y="174.6" font-size="5.4" text-anchor="middle" font-weight="normal" fill="#111" stroke="#111" stroke-width="0.10" >FHL3-CTLs</text>
<text x="225.6" y="174.6" font-size="5.4" text-anchor="middle" font-weight="normal" fill="#111" stroke="#111" stroke-width="0.10" >FHL3-CTLs</text>
<text transform="translate(280.9,10.1) scale(1,0.99)" font-size="14.2" font-weight="bold" fill="#000" stroke="#000" stroke-width="0.25">C</text>
<text x="360" y="27.8" font-size="6.4" text-anchor="middle" font-weight="normal" fill="#111" stroke="#111" stroke-width="0.12" >endogenous</text>
<text x="425.2" y="27.6" font-size="6.4" text-anchor="middle" font-weight="normal" fill="#111" stroke="#111" stroke-width="0.12" >YFP-munc13-4</text>
<line x1="332.2" y1="33.4" x2="388.7" y2="33.4" stroke="#000" stroke-width="1.4" />
<line x1="396.8" y1="33.4" x2="454" y2="33.4" stroke="#000" stroke-width="1.4" />
<text x="324.2" y="41.4" font-size="6.4" text-anchor="end" font-weight="normal" fill="#111" stroke="#111" stroke-width="0.12" >control</text>
<text x="324.2" y="50.2" font-size="6.4" text-anchor="end" font-weight="normal" fill="#111" stroke="#111" stroke-width="0.12" >siRNA 1</text>
<text x="324.2" y="58.9" font-size="6.4" text-anchor="end" font-weight="normal" fill="#111" stroke="#111" stroke-width="0.12" >siRNA 2</text>
<line x1="337.20000000000005" y1="38.9" x2="339.0" y2="38.9" stroke="#777" stroke-width="0.6" />
<line x1="353.0" y1="38.699999999999996" x2="355.0" y2="38.699999999999996" stroke="#222" stroke-width="0.8" />
<line x1="354.0" y1="37.6" x2="354.0" y2="39.8" stroke="#222" stroke-width="0.8" />
<line x1="368.70000000000005" y1="38.9" x2="370.5" y2="38.9" stroke="#777" stroke-width="0.6" />
<line x1="384.3" y1="38.9" x2="386.09999999999997" y2="38.9" stroke="#777" stroke-width="0.6" />
<line x1="399.8" y1="38.9" x2="401.59999999999997" y2="38.9" stroke="#777" stroke-width="0.6" />
<line x1="415.4" y1="38.699999999999996" x2="417.4" y2="38.699999999999996" stroke="#222" stroke-width="0.8" />
<line x1="416.4" y1="37.6" x2="416.4" y2="39.8" stroke="#222" stroke-width="0.8" />
<line x1="431.6" y1="38.9" x2="433.4" y2="38.9" stroke="#777" stroke-width="0.6" />
<line x1="448.40000000000003" y1="38.9" x2="450.2" y2="38.9" stroke="#777" stroke-width="0.6" />
<line x1="337.20000000000005" y1="48.3" x2="339.0" y2="48.3" stroke="#777" stroke-width="0.6" />
<line x1="353.1" y1="48.3" x2="354.9" y2="48.3" stroke="#777" stroke-width="0.6" />
<line x1="368.6" y1="48.099999999999994" x2="370.6" y2="48.099999999999994" stroke="#222" stroke-width="0.8" />
<line x1="369.6" y1="47.0" x2="369.6" y2="49.199999999999996" stroke="#222" stroke-width="0.8" />
<line x1="384.3" y1="48.3" x2="386.09999999999997" y2="48.3" stroke="#777" stroke-width="0.6" />
<line x1="399.8" y1="48.3" x2="401.59999999999997" y2="48.3" stroke="#777" stroke-width="0.6" />
<line x1="415.5" y1="48.3" x2="417.29999999999995" y2="48.3" stroke="#777" stroke-width="0.6" />
<line x1="431.5" y1="48.099999999999994" x2="433.5" y2="48.099999999999994" stroke="#222" stroke-width="0.8" />
<line x1="432.5" y1="47.0" x2="432.5" y2="49.199999999999996" stroke="#222" stroke-width="0.8" />
<line x1="448.40000000000003" y1="48.3" x2="450.2" y2="48.3" stroke="#777" stroke-width="0.6" />
<line x1="337.20000000000005" y1="57.0" x2="339.0" y2="57.0" stroke="#777" stroke-width="0.6" />
<line x1="353.1" y1="57.0" x2="354.9" y2="57.0" stroke="#777" stroke-width="0.6" />
<line x1="368.70000000000005" y1="57.0" x2="370.5" y2="57.0" stroke="#777" stroke-width="0.6" />
<line x1="384.2" y1="56.8" x2="386.2" y2="56.8" stroke="#222" stroke-width="0.8" />
<line x1="385.2" y1="55.7" x2="385.2" y2="57.9" stroke="#222" stroke-width="0.8" />
<line x1="399.8" y1="57.0" x2="401.59999999999997" y2="57.0" stroke="#777" stroke-width="0.6" />
<line x1="415.5" y1="57.0" x2="417.29999999999995" y2="57.0" stroke="#777" stroke-width="0.6" />
<line x1="431.6" y1="57.0" x2="433.4" y2="57.0" stroke="#777" stroke-width="0.6" />
<line x1="448.3" y1="56.8" x2="450.3" y2="56.8" stroke="#222" stroke-width="0.8" />
<line x1="449.3" y1="55.7" x2="449.3" y2="57.9" stroke="#222" stroke-width="0.8" />
<g>
<rect x="327.90" y="60.90" width="131.20" height="23.40" fill="url(#blotbg)" stroke="none" stroke-width="1" />
<rect x="327.9" y="60.9" width="131.20000000000005" height="23.4" fill="#888" filter="url(#noise)" opacity="0.35"/>
<g filter="url(#b12)">
<path d="M330.59999999999997,71.5 Q337.4,77.5 344.2,71.5 L344.0,76.5 Q337.4,83.5 330.79999999999995,76.5Z" fill="#4a4a4a" opacity="0.5"/>
<rect x="330.9" y="63" width="13" height="12" fill="#777" opacity="0.25"/>
<path d="M346.8,71.5 Q353.6,77.5 360.40000000000003,71.5 L360.20000000000005,76.5 Q353.6,83.5 347.0,76.5Z" fill="#4a4a4a" opacity="0.55"/>
<rect x="347.1" y="63" width="13" height="12" fill="#777" opacity="0.28"/>
<path d="M362.7,71.5 Q369.5,77.5 376.3,71.5 L376.1,76.5 Q369.5,83.5 362.9,76.5Z" fill="#4a4a4a" opacity="0.1"/>
<rect x="363.0" y="63" width="13" height="12" fill="#777" opacity="0.05"/>
</g><g filter="url(#b07)">
<path d="M395.0,66.0 Q401.5,67.2 408.0,65.8 L408.0,67.8 Q401.5,69.4 395.0,68.0Z" fill="#3a3a3a" opacity="0.68"/>
<path d="M409.8,66.0 Q416.3,67.2 422.8,65.8 L422.8,67.8 Q416.3,69.4 409.8,68.0Z" fill="#3a3a3a" opacity="0.72"/>
<path d="M426.2,66.0 Q432.7,67.2 439.2,65.8 L439.2,67.8 Q432.7,69.4 426.2,68.0Z" fill="#3a3a3a" opacity="0.53"/>
<path d="M442.5,66.0 Q449,67.2 455.5,65.8 L455.5,67.8 Q449,69.4 442.5,68.0Z" fill="#3a3a3a" opacity="0.58"/>
</g><g filter="url(#b12)">
<path d="M394.9,75.2 Q401.5,81 408.1,75.2 L407.9,79.3 Q401.5,85 395.1,79.3Z" fill="#4a4a4a" opacity="0.55"/>
<rect x="394.9" y="68" width="13.2" height="9" fill="#888" opacity="0.3"/>
<path d="M409.7,75.2 Q416.3,81 422.90000000000003,75.2 L422.7,79.3 Q416.3,85 409.90000000000003,79.3Z" fill="#4a4a4a" opacity="0.6"/>
<rect x="409.7" y="68" width="13.2" height="9" fill="#888" opacity="0.3"/>
</g>
<rect x="327.90" y="60.90" width="131.20" height="23.40" fill="none" stroke="#000" stroke-width="1.4" />
</g>
<rect x="327.90" y="87.60" width="131.20" height="23.60" fill="#f1f1f1" stroke="none" stroke-width="1" />
<g filter="url(#b06)">
<path d="M331.5,95.8 Q334.40000000000003,99.0 337.8,97.0 Q341.2,99.0 344.1,95.8 L344.0,98.4 Q341.40000000000003,103.2 337.8,100.0 Q334.2,103.2 331.6,98.4Z" fill="#101010"/>
<path d="M347.5,95.8 Q350.40000000000003,99.0 353.8,97.0 Q357.2,99.0 360.1,95.8 L360.0,98.4 Q357.40000000000003,103.2 353.8,100.0 Q350.2,103.2 347.6,98.4Z" fill="#101010"/>
<path d="M363.5,95.8 Q366.40000000000003,99.0 369.8,97.0 Q373.2,99.0 376.1,95.8 L376.0,98.4 Q373.40000000000003,103.2 369.8,100.0 Q366.2,103.2 363.6,98.4Z" fill="#101010"/>
<path d="M378.7,95.8 Q381.6,99.0 385.0,97.0 Q388.4,99.0 391.3,95.8 L391.2,98.4 Q388.6,103.2 385.0,100.0 Q381.4,103.2 378.8,98.4Z" fill="#101010"/>
<path d="M394.3,95.8 Q397.20000000000005,99.0 400.6,97.0 Q404.0,99.0 406.90000000000003,95.8 L406.8,98.4 Q404.20000000000005,103.2 400.6,100.0 Q397.0,103.2 394.40000000000003,98.4Z" fill="#101010"/>
<path d="M409.7,95.8 Q412.6,99.0 416.0,97.0 Q419.4,99.0 422.3,95.8 L422.2,98.4 Q419.6,103.2 416.0,100.0 Q412.4,103.2 409.8,98.4Z" fill="#101010"/>
<path d="M425.7,95.8 Q428.6,99.0 432.0,97.0 Q435.4,99.0 438.3,95.8 L438.2,98.4 Q435.6,103.2 432.0,100.0 Q428.4,103.2 425.8,98.4Z" fill="#101010"/>
<path d="M442.3,95.8 Q445.20000000000005,99.0 448.6,97.0 Q452.0,99.0 454.90000000000003,95.8 L454.8,98.4 Q452.20000000000005,103.2 448.6,100.0 Q445.0,103.2 442.40000000000003,98.4Z" fill="#101010"/>
</g>
<rect x="327.90" y="87.60" width="131.20" height="23.60" fill="none" stroke="#000" stroke-width="1.4" />
<text x="463.3" y="75.1" font-size="6.4" text-anchor="start" font-weight="normal" fill="#111" stroke="#111" stroke-width="0.12" >α-munc13-4</text>
<text x="463.3" y="99.6" font-size="6.4" text-anchor="start" font-weight="normal" fill="#111" stroke="#111" stroke-width="0.12" >α-actin</text>
<text transform="translate(0.0,200.7) scale(1,0.99)" font-size="14.2" font-weight="bold" fill="#000" stroke="#000" stroke-width="0.25">B</text>
<line x1="33.5" y1="226.4" x2="33.5" y2="328.0" stroke="#000" stroke-width="1.7" />
<line x1="32.6" y1="327.7" x2="255.6" y2="327.7" stroke="#000" stroke-width="1.7" />
<line x1="30.8" y1="327.7" x2="33.5" y2="327.7" stroke="#000" stroke-width="1.2" />
<text x="30.200000000000003" y="329.4" font-size="5.0" text-anchor="end" font-weight="normal" fill="#111" stroke="#111" stroke-width="0.09" >0</text>
<line x1="30.8" y1="316.58" x2="33.5" y2="316.58" stroke="#000" stroke-width="1.2" />
<text x="30.200000000000003" y="318.28" font-size="5.0" text-anchor="end" font-weight="normal" fill="#111" stroke="#111" stroke-width="0.09" >10</text>
<line x1="30.8" y1="305.46" x2="33.5" y2="305.46" stroke="#000" stroke-width="1.2" />
<text x="30.200000000000003" y="307.15999999999997" font-size="5.0" text-anchor="end" font-weight="normal" fill="#111" stroke="#111" stroke-width="0.09" >20</text>
<line x1="30.8" y1="294.34" x2="33.5" y2="294.34" stroke="#000" stroke-width="1.2" />
<text x="30.200000000000003" y="296.03999999999996" font-size="5.0" text-anchor="end" font-weight="normal" fill="#111" stroke="#111" stroke-width="0.09" >30</text>
<line x1="30.8" y1="283.21999999999997" x2="33.5" y2="283.21999999999997" stroke="#000" stroke-width="1.2" />
<text x="30.200000000000003" y="284.91999999999996" font-size="5.0" text-anchor="end" font-weight="normal" fill="#111" stroke="#111" stroke-width="0.09" >40</text>
<line x1="30.8" y1="272.09999999999997" x2="33.5" y2="272.09999999999997" stroke="#000" stroke-width="1.2" />
<text x="30.200000000000003" y="273.79999999999995" font-size="5.0" text-anchor="end" font-weight="normal" fill="#111" stroke="#111" stroke-width="0.09" >50</text>
<line x1="30.8" y1="260.97999999999996" x2="33.5" y2="260.97999999999996" stroke="#000" stroke-width="1.2" />
<text x="30.200000000000003" y="262.67999999999995" font-size="5.0" text-anchor="end" font-weight="normal" fill="#111" stroke="#111" stroke-width="0.09" >60</text>
<line x1="30.8" y1="249.85999999999999" x2="33.5" y2="249.85999999999999" stroke="#000" stroke-width="1.2" />
<text x="30.200000000000003" y="251.56" font-size="5.0" text-anchor="end" font-weight="normal" fill="#111" stroke="#111" stroke-width="0.09" >70</text>
<line x1="30.8" y1="238.73999999999998" x2="33.5" y2="238.73999999999998" stroke="#000" stroke-width="1.2" />
<text x="30.200000000000003" y="240.44" font-size="5.0" text-anchor="end" font-weight="normal" fill="#111" stroke="#111" stroke-width="0.09" >80</text>
<line x1="30.8" y1="227.61999999999998" x2="33.5" y2="227.61999999999998" stroke="#000" stroke-width="1.2" />
<text x="30.200000000000003" y="229.32" font-size="5.0" text-anchor="end" font-weight="normal" fill="#111" stroke="#111" stroke-width="0.09" >90</text>
<line x1="33.2" y1="327.5" x2="33.2" y2="330.1" stroke="#000" stroke-width="1.3" />
<line x1="55.38" y1="327.5" x2="55.38" y2="330.1" stroke="#000" stroke-width="1.3" />
<line x1="77.56" y1="327.5" x2="77.56" y2="330.1" stroke="#000" stroke-width="1.3" />
<line x1="99.74" y1="327.5" x2="99.74" y2="330.1" stroke="#000" stroke-width="1.3" />
<line x1="121.92" y1="327.5" x2="121.92" y2="330.1" stroke="#000" stroke-width="1.3" />
<line x1="144.10000000000002" y1="327.5" x2="144.10000000000002" y2="330.1" stroke="#000" stroke-width="1.3" />
<line x1="166.27999999999997" y1="327.5" x2="166.27999999999997" y2="330.1" stroke="#000" stroke-width="1.3" />
<line x1="188.45999999999998" y1="327.5" x2="188.45999999999998" y2="330.1" stroke="#000" stroke-width="1.3" />
<line x1="210.64" y1="327.5" x2="210.64" y2="330.1" stroke="#000" stroke-width="1.3" />
<line x1="232.82" y1="327.5" x2="232.82" y2="330.1" stroke="#000" stroke-width="1.3" />
<line x1="255.0" y1="327.5" x2="255.0" y2="330.1" stroke="#000" stroke-width="1.3" />
<text x="21.2" y="276.6" font-size="5.3" text-anchor="middle" font-weight="normal" fill="#111" stroke="#111" stroke-width="0.10" transform="rotate(-90 21.2 276.6)" >% CD107a/b</text>
<rect x="93.20" y="225.70" width="3.70" height="3.40" fill="#ddd" stroke="#000" stroke-width="1.1" />
<text x="97.6" y="229.2" font-size="5.0" fill="#111" stroke="#111" stroke-width="0.15">anti CD3, CFP<tspan font-size="3.2" dy="-1.8">+</tspan></text>
<rect x="138.00" y="225.70" width="3.70" height="3.40" fill="#333" stroke="#000" stroke-width="1.1" />
<text x="142.4" y="229.2" font-size="5.0" fill="#111" stroke="#111" stroke-width="0.15">anti CD3, CFP<tspan font-size="3.2" dy="-1.8">-</tspan></text>
<line x1="47.69" y1="256.332" x2="47.69" y2="250.216" stroke="#000" stroke-width="1.25" />
<line x1="45.69" y1="250.51600000000002" x2="49.69" y2="250.51600000000002" stroke="#000" stroke-width="1.5" />
<rect x="44.39" y="256.63" width="6.60" height="70.87" fill="#3a3a3a" stroke="#000" stroke-width="1.6" />
<line x1="63.26999999999999" y1="246.324" x2="63.26999999999999" y2="241.32" stroke="#000" stroke-width="1.25" />
<line x1="61.26999999999999" y1="241.62" x2="65.26999999999998" y2="241.62" stroke="#000" stroke-width="1.5" />
<rect x="59.97" y="246.62" width="6.60" height="80.88" fill="#d4d4d4" stroke="#000" stroke-width="1.6" />
<rect x="66.57" y="247.74" width="6.60" height="79.76" fill="#3a3a3a" stroke="#000" stroke-width="1.6" />
<line x1="92.05" y1="318.604" x2="92.05" y2="312.488" stroke="#000" stroke-width="1.25" />
<line x1="90.05" y1="312.788" x2="94.05" y2="312.788" stroke="#000" stroke-width="1.5" />
<rect x="88.75" y="318.90" width="6.60" height="8.60" fill="#3a3a3a" stroke="#000" stroke-width="1.6" />
<line x1="107.63000000000001" y1="249.66" x2="107.63000000000001" y2="241.87599999999998" stroke="#000" stroke-width="1.25" />
<line x1="105.63000000000001" y1="242.176" x2="109.63000000000001" y2="242.176" stroke="#000" stroke-width="1.5" />
<rect x="104.33" y="249.96" width="6.60" height="77.54" fill="#d4d4d4" stroke="#000" stroke-width="1.6" />
<line x1="114.23" y1="314.156" x2="114.23" y2="311.376" stroke="#000" stroke-width="1.25" />
<line x1="112.23" y1="311.676" x2="116.23" y2="311.676" stroke="#000" stroke-width="1.5" />
<rect x="110.93" y="314.46" width="6.60" height="13.04" fill="#3a3a3a" stroke="#000" stroke-width="1.6" />
<line x1="129.81000000000003" y1="263.004" x2="129.81000000000003" y2="247.43599999999998" stroke="#000" stroke-width="1.25" />
<line x1="127.81000000000003" y1="247.736" x2="131.81000000000003" y2="247.736" stroke="#000" stroke-width="1.5" />
<rect x="126.51" y="263.30" width="6.60" height="64.20" fill="#d4d4d4" stroke="#000" stroke-width="1.6" />
<line x1="136.41000000000003" y1="311.932" x2="136.41000000000003" y2="307.484" stroke="#000" stroke-width="1.25" />
<line x1="134.41000000000003" y1="307.784" x2="138.41000000000003" y2="307.784" stroke="#000" stroke-width="1.5" />
<rect x="133.11" y="312.23" width="6.60" height="15.27" fill="#3a3a3a" stroke="#000" stroke-width="1.6" />
<line x1="151.99" y1="318.604" x2="151.99" y2="315.824" stroke="#000" stroke-width="1.25" />
<line x1="149.99" y1="316.124" x2="153.99" y2="316.124" stroke="#000" stroke-width="1.5" />
<rect x="148.69" y="318.90" width="6.60" height="8.60" fill="#d4d4d4" stroke="#000" stroke-width="1.6" />
<line x1="158.59" y1="316.38" x2="158.59" y2="313.6" stroke="#000" stroke-width="1.25" />
<line x1="156.59" y1="313.90000000000003" x2="160.59" y2="313.90000000000003" stroke="#000" stroke-width="1.5" />
<rect x="155.29" y="316.68" width="6.60" height="10.82" fill="#3a3a3a" stroke="#000" stroke-width="1.6" />
<rect x="170.87" y="317.79" width="6.60" height="9.71" fill="#d4d4d4" stroke="#000" stroke-width="1.6" />
<line x1="180.77" y1="316.38" x2="180.77" y2="312.488" stroke="#000" stroke-width="1.25" />
<line x1="178.77" y1="312.788" x2="182.77" y2="312.788" stroke="#000" stroke-width="1.5" />
<rect x="177.47" y="316.68" width="6.60" height="10.82" fill="#3a3a3a" stroke="#000" stroke-width="1.6" />
<line x1="196.35000000000002" y1="325.276" x2="196.35000000000002" y2="322.496" stroke="#000" stroke-width="1.25" />
<line x1="194.35000000000002" y1="322.796" x2="198.35000000000002" y2="322.796" stroke="#000" stroke-width="1.5" />
<rect x="193.05" y="325.58" width="6.60" height="1.92" fill="#d4d4d4" stroke="#000" stroke-width="1.6" />
<line x1="202.95000000000002" y1="323.052" x2="202.95000000000002" y2="319.716" stroke="#000" stroke-width="1.25" />
<line x1="200.95000000000002" y1="320.016" x2="204.95000000000002" y2="320.016" stroke="#000" stroke-width="1.5" />
<rect x="199.65" y="323.35" width="6.60" height="4.15" fill="#3a3a3a" stroke="#000" stroke-width="1.6" />
<line x1="218.53000000000003" y1="280.796" x2="218.53000000000003" y2="269.12" stroke="#000" stroke-width="1.25" />
<line x1="216.53000000000003" y1="269.42" x2="220.53000000000003" y2="269.42" stroke="#000" stroke-width="1.5" />
<rect x="215.23" y="281.10" width="6.60" height="46.40" fill="#d4d4d4" stroke="#000" stroke-width="1.6" />
<line x1="225.13000000000002" y1="307.484" x2="225.13000000000002" y2="304.148" stroke="#000" stroke-width="1.25" />
<line x1="223.13000000000002" y1="304.44800000000004" x2="227.13000000000002" y2="304.44800000000004" stroke="#000" stroke-width="1.5" />
<rect x="221.83" y="307.78" width="6.60" height="19.72" fill="#3a3a3a" stroke="#000" stroke-width="1.6" />
<line x1="240.71000000000004" y1="318.604" x2="240.71000000000004" y2="316.936" stroke="#000" stroke-width="1.25" />
<line x1="238.71000000000004" y1="317.236" x2="242.71000000000004" y2="317.236" stroke="#000" stroke-width="1.5" />
<rect x="237.41" y="318.90" width="6.60" height="8.60" fill="#d4d4d4" stroke="#000" stroke-width="1.6" />
<line x1="247.31000000000003" y1="316.38" x2="247.31000000000003" y2="313.6" stroke="#000" stroke-width="1.25" />
<line x1="245.31000000000003" y1="313.90000000000003" x2="249.31000000000003" y2="313.90000000000003" stroke="#000" stroke-width="1.5" />
<rect x="244.01" y="316.68" width="6.60" height="10.82" fill="#3a3a3a" stroke="#000" stroke-width="1.6" />
<text x="6.9" y="335.6" font-size="5.1" text-anchor="start" font-weight="normal" fill="#111" stroke="#111" stroke-width="0.09" >CTLs</text>
<text x="6.9" y="342.3" font-size="5.1" text-anchor="start" font-weight="normal" fill="#111" stroke="#111" stroke-width="0.09" >CFP-munc13-4</text>
<text x="47.4" y="335.6" font-size="5.0" text-anchor="middle" font-weight="normal" fill="#111" stroke="#111" stroke-width="0.09" >WT</text>
<line x1="46.6" y1="340.8" x2="48.199999999999996" y2="340.8" stroke="#666" stroke-width="0.6" />
<text x="66.8" y="335.6" font-size="5.0" text-anchor="middle" font-weight="normal" fill="#111" stroke="#111" stroke-width="0.09" >WT</text>
<text x="66.5" y="342.2" font-size="3.9" text-anchor="middle" font-weight="normal" fill="#333" stroke="#333" stroke-width="0.07" >WT</text>
<text x="89.6" y="335.6" font-size="4.9" text-anchor="middle" font-weight="normal" fill="#111" stroke="#111" stroke-width="0.09" >FHL3</text>
<line x1="88.8" y1="340.8" x2="90.39999999999999" y2="340.8" stroke="#666" stroke-width="0.6" />
<text x="111.5" y="335.6" font-size="4.9" text-anchor="middle" font-weight="normal" fill="#111" stroke="#111" stroke-width="0.09" >FHL3</text>
<text x="110.2" y="342.2" font-size="3.9" text-anchor="middle" font-weight="normal" fill="#333" stroke="#333" stroke-width="0.07" >WT</text>
<text x="133.5" y="335.6" font-size="4.9" text-anchor="middle" font-weight="normal" fill="#111" stroke="#111" stroke-width="0.09" >FHL3</text>
<text x="133.2" y="342.2" font-size="3.9" text-anchor="middle" font-weight="normal" fill="#333" stroke="#333" stroke-width="0.07" >PDN&gt;AAA</text>
<text x="155.3" y="335.6" font-size="4.9" text-anchor="middle" font-weight="normal" fill="#111" stroke="#111" stroke-width="0.09" >FHL3</text>
<text x="155.0" y="342.2" font-size="3.9" text-anchor="middle" font-weight="normal" fill="#333" stroke="#333" stroke-width="0.07" >FQL&gt;AAA</text>
<text x="176.6" y="335.6" font-size="4.9" text-anchor="middle" font-weight="normal" fill="#111" stroke="#111" stroke-width="0.09" >FHL3</text>
<text x="176.29999999999998" y="342.2" font-size="3.9" text-anchor="middle" font-weight="normal" fill="#333" stroke="#333" stroke-width="0.07" >H4I&gt;AAA</text>
<text x="198.8" y="335.6" font-size="4.9" text-anchor="middle" font-weight="normal" fill="#111" stroke="#111" stroke-width="0.09" >FHL3</text>
<text x="198.5" y="342.2" font-size="3.9" text-anchor="middle" font-weight="normal" fill="#333" stroke="#333" stroke-width="0.07" >Δ(280-285)</text>
<text x="221.6" y="335.6" font-size="4.9" text-anchor="middle" font-weight="normal" fill="#111" stroke="#111" stroke-width="0.09" >FHL3</text>
<text x="221.29999999999998" y="342.2" font-size="3.9" text-anchor="middle" font-weight="normal" fill="#333" stroke="#333" stroke-width="0.07" >RRA&gt;AAA</text>
<text x="243.6" y="335.6" font-size="4.9" text-anchor="middle" font-weight="normal" fill="#111" stroke="#111" stroke-width="0.09" >FHL3</text>
<text x="243.29999999999998" y="342.2" font-size="3.9" text-anchor="middle" font-weight="normal" fill="#333" stroke="#333" stroke-width="0.07" >Δ(608-611)</text>
<text transform="translate(280.9,200.5) scale(1,0.99)" font-size="14.2" font-weight="bold" fill="#000" stroke="#000" stroke-width="0.25">D</text>
<line x1="329.1" y1="211.4" x2="329.1" y2="327.2" stroke="#000" stroke-width="1.4" />
<line x1="328.6" y1="326.7" x2="520" y2="326.7" stroke="#000" stroke-width="1.4" />
<line x1="326.1" y1="326.9" x2="329.1" y2="326.9" stroke="#000" stroke-width="1.4" />
<text x="323.90000000000003" y="328.95" font-size="6.2" text-anchor="end" font-weight="normal" fill="#111" stroke="#111" stroke-width="0.11" >0</text>
<line x1="326.1" y1="307.76599999999996" x2="329.1" y2="307.76599999999996" stroke="#000" stroke-width="1.4" />
<text x="323.90000000000003" y="309.816" font-size="6.2" text-anchor="end" font-weight="normal" fill="#111" stroke="#111" stroke-width="0.11" >20</text>
<line x1="326.1" y1="288.632" x2="329.1" y2="288.632" stroke="#000" stroke-width="1.4" />
<text x="323.90000000000003" y="290.682" font-size="6.2" text-anchor="end" font-weight="normal" fill="#111" stroke="#111" stroke-width="0.11" >40</text>
<line x1="326.1" y1="269.498" x2="329.1" y2="269.498" stroke="#000" stroke-width="1.4" />
<text x="323.90000000000003" y="271.548" font-size="6.2" text-anchor="end" font-weight="normal" fill="#111" stroke="#111" stroke-width="0.11" >60</text>
<line x1="326.1" y1="250.36399999999998" x2="329.1" y2="250.36399999999998" stroke="#000" stroke-width="1.4" />
<text x="323.90000000000003" y="252.414" font-size="6.2" text-anchor="end" font-weight="normal" fill="#111" stroke="#111" stroke-width="0.11" >80</text>
<line x1="326.1" y1="231.22999999999996" x2="329.1" y2="231.22999999999996" stroke="#000" stroke-width="1.4" />
<text x="323.90000000000003" y="233.27999999999997" font-size="6.2" text-anchor="end" font-weight="normal" fill="#111" stroke="#111" stroke-width="0.11" >100</text>
<line x1="326.1" y1="212.09599999999998" x2="329.1" y2="212.09599999999998" stroke="#000" stroke-width="1.4" />
<text x="323.90000000000003" y="214.146" font-size="6.2" text-anchor="end" font-weight="normal" fill="#111" stroke="#111" stroke-width="0.11" >120</text>
<line x1="329.1" y1="326.7" x2="329.1" y2="329.3" stroke="#000" stroke-width="1.1" />
<line x1="360.70000000000005" y1="326.7" x2="360.70000000000005" y2="329.3" stroke="#000" stroke-width="1.1" />
<line x1="392.3" y1="326.7" x2="392.3" y2="329.3" stroke="#000" stroke-width="1.1" />
<line x1="423.90000000000003" y1="326.7" x2="423.90000000000003" y2="329.3" stroke="#000" stroke-width="1.1" />
<line x1="455.5" y1="326.7" x2="455.5" y2="329.3" stroke="#000" stroke-width="1.1" />
<line x1="487.1" y1="326.7" x2="487.1" y2="329.3" stroke="#000" stroke-width="1.1" />
<line x1="518.7" y1="326.7" x2="518.7" y2="329.3" stroke="#000" stroke-width="1.1" />
<text x="308.9" y="269.5" font-size="6.6" text-anchor="middle" font-weight="normal" fill="#111" stroke="#111" stroke-width="0.12" transform="rotate(-90 308.9 269.5)" >secretion %</text>
<rect x="337.85" y="231.43" width="13.30" height="95.27" fill="#d2d2d2" stroke="#000" stroke-width="1.7" />
<line x1="376.20000000000005" y1="305.17425" x2="376.20000000000005" y2="297.99899999999997" stroke="#000" stroke-width="1.4" />
<line x1="373.6" y1="298.299" x2="378.80000000000007" y2="298.299" stroke="#000" stroke-width="1.6" />
<rect x="369.55" y="305.57" width="13.30" height="21.13" fill="#d2d2d2" stroke="#000" stroke-width="1.7" />
<line x1="407.90000000000003" y1="226.24649999999997" x2="407.90000000000003" y2="223.3764" stroke="#000" stroke-width="1.4" />
<line x1="405.3" y1="223.6764" x2="410.50000000000006" y2="223.6764" stroke="#000" stroke-width="1.6" />
<rect x="401.25" y="226.65" width="13.30" height="100.05" fill="#d2d2d2" stroke="#000" stroke-width="1.7" />
<line x1="439.6000000000001" y1="293.2155" x2="439.6000000000001" y2="278.865" stroke="#000" stroke-width="1.4" />
<line x1="437.00000000000006" y1="279.165" x2="442.2000000000001" y2="279.165" stroke="#000" stroke-width="1.6" />
<rect x="432.95" y="293.62" width="13.30" height="33.08" fill="#d2d2d2" stroke="#000" stroke-width="1.7" />
<line x1="471.30000000000007" y1="233.9001" x2="471.30000000000007" y2="222.41969999999998" stroke="#000" stroke-width="1.4" />
<line x1="468.70000000000005" y1="222.7197" x2="473.9000000000001" y2="222.7197" stroke="#000" stroke-width="1.6" />
<rect x="464.65" y="234.30" width="13.30" height="92.40" fill="#d2d2d2" stroke="#000" stroke-width="1.7" />
<line x1="503.00000000000006" y1="300.39074999999997" x2="503.00000000000006" y2="297.0423" stroke="#000" stroke-width="1.4" />
<line x1="500.40000000000003" y1="297.3423" x2="505.6000000000001" y2="297.3423" stroke="#000" stroke-width="1.6" />
<rect x="496.35" y="300.79" width="13.30" height="25.91" fill="#d2d2d2" stroke="#000" stroke-width="1.7" />
<path d="M407.4,203.8 V200.8 H440 V203.8" fill="none" stroke="#000" stroke-width="1.5"/>
<path d="M407.4,215 V211.9 H503.3 V215" fill="none" stroke="#000" stroke-width="1.5"/>
<text x="424" y="200.4" font-size="7.2" text-anchor="middle" font-weight="normal" fill="#000" stroke="#000" stroke-width="0.13" >***</text>
<text x="455.4" y="211.3" font-size="7.2" text-anchor="middle" font-weight="normal" fill="#000" stroke="#000" stroke-width="0.13" >***</text>
<text x="324.9" y="336.7" font-size="6.4" text-anchor="end" font-weight="normal" fill="#111" stroke="#111" stroke-width="0.12" >siRNA</text>
<text x="345" y="336.7" font-size="6.4" text-anchor="middle" font-weight="normal" fill="#111" stroke="#111" stroke-width="0.12" >scrambled</text>
<line x1="374.7" y1="333.8" x2="377.3" y2="333.8" stroke="#222" stroke-width="0.7" />
<line x1="376" y1="332.5" x2="376" y2="335.1" stroke="#222" stroke-width="0.7" />
<line x1="406.3" y1="333.8" x2="408.90000000000003" y2="333.8" stroke="#222" stroke-width="0.7" />
<line x1="407.6" y1="332.5" x2="407.6" y2="335.1" stroke="#222" stroke-width="0.7" />
<line x1="438.0" y1="333.8" x2="440.6" y2="333.8" stroke="#222" stroke-width="0.7" />
<line x1="439.3" y1="332.5" x2="439.3" y2="335.1" stroke="#222" stroke-width="0.7" />
<line x1="469.9" y1="333.8" x2="472.5" y2="333.8" stroke="#222" stroke-width="0.7" />
<line x1="471.2" y1="332.5" x2="471.2" y2="335.1" stroke="#222" stroke-width="0.7" />
<line x1="502.09999999999997" y1="333.8" x2="504.7" y2="333.8" stroke="#222" stroke-width="0.7" />
<line x1="503.4" y1="332.5" x2="503.4" y2="335.1" stroke="#222" stroke-width="0.7" />
<text x="323.4" y="348.5" font-size="6.4" text-anchor="end" font-weight="normal" fill="#111" stroke="#111" stroke-width="0.12" >YFP-munc13-4</text>
<line x1="343.8" y1="346.8" x2="345.6" y2="346.8" stroke="#888" stroke-width="0.6" />
<line x1="375.3" y1="346.8" x2="377.1" y2="346.8" stroke="#888" stroke-width="0.6" />
<text x="407.4" y="348.4" font-size="6" text-anchor="middle" font-weight="normal" fill="#111" stroke="#111" stroke-width="0.11" >WT</text>
<text x="441.2" y="348.4" font-size="6" text-anchor="middle" font-weight="normal" fill="#111" stroke="#111" stroke-width="0.11" >FQL&gt;AAA</text>
<text x="472.4" y="348.4" font-size="6" text-anchor="middle" font-weight="normal" fill="#111" stroke="#111" stroke-width="0.11" >RRA&gt;AAA</text>
<text x="504.6" y="348.4" font-size="6" text-anchor="middle" font-weight="normal" fill="#111" stroke="#111" stroke-width="0.11" >Δ(280-285)</text>
</g>
</svg>
</body></html>
